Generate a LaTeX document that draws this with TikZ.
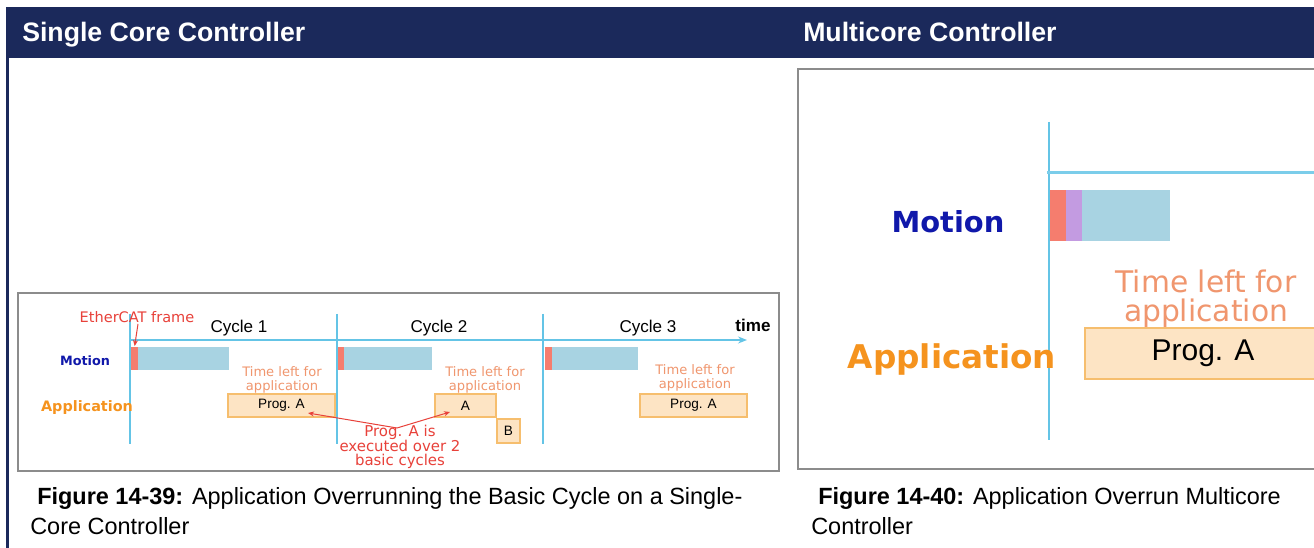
\documentclass[tikz,border=0pt]{standalone}
\usepackage{fontspec}
\setmainfont{Liberation Sans}
\newfontfamily\dv{DejaVu Sans}
\usetikzlibrary{arrows.meta}
\definecolor{navy}{RGB}{27,41,91}
\definecolor{lblue}{RGB}{100,196,230}
\definecolor{barblue}{RGB}{168,211,226}
\definecolor{ecred}{RGB}{245,125,110}
\definecolor{lav}{RGB}{195,155,225}
\definecolor{progfill}{RGB}{253,228,196}
\definecolor{progline}{RGB}{246,190,110}
\definecolor{salmon}{RGB}{240,150,110}
\definecolor{notered}{RGB}{232,65,58}
\definecolor{motblue}{RGB}{16,24,170}
\definecolor{apporange}{RGB}{245,147,30}
\definecolor{framegray}{RGB}{140,140,140}
\def\u{0.75pt}
\tikzset{
  frame/.style={draw=framegray, line width=1.5*\u},
  vline/.style={draw=lblue, line width=1.6*\u},
  bar/.style={fill=barblue, draw=none},
  redbar/.style={fill=ecred, draw=none},
  prog/.style={draw=progline, fill=progfill, line width=1.2*\u, inner sep=0pt},
  leftlbl/.style={font=\fontsize{10.2}{12}\selectfont, text=black},
  tleft/.style={text=salmon, align=center, inner sep=0pt, font=\dv\fontsize{9.8}{10.5}\selectfont},
  cyc/.style={font=\fontsize{12.8}{14}\selectfont, inner sep=0pt},
  redarrow/.style={draw=notered, line width=1*\u, -{Stealth[length=6*\u,width=5*\u]}},
  hdr/.style={text=white, font=\bfseries\fontsize{20}{24}\selectfont, anchor=base west, inner sep=0pt},
  captxt/.style={font=\fontsize{17.6}{22}\selectfont, anchor=base west, inner sep=0pt}
}
\begin{document}
\begin{tikzpicture}[x=0.75pt,y=-0.75pt]
\useasboundingbox (0,0) rectangle (1314,548);
\fill[white] (0,0) rectangle (1314,548);
% header band and left rule
\fill[navy] (6,7) rectangle (1314,58);
\fill[navy] (6,58) rectangle (8.5,548);
\node[hdr] (h1) at (22,42) {Single Core Controller};
\node[hdr] (h2) at (803,42) {Multicore Controller};

% ===== left figure =====
\draw[frame] (18,293) rectangle (779,471);
% cycle lines
\draw[vline] (130,314) -- (130,444);
\draw[vline] (337,314) -- (337,444);
\draw[vline] (543,314) -- (543,444);
% time axis
\coordinate (t0) at (130,340);
\coordinate (t1) at (747,340);
\draw[draw=lblue, line width=1.4*\u, -{Stealth[length=9*\u,width=7*\u,inset=3*\u]}] (t0) -- (t1);
\node[font=\bfseries\fontsize{12.8}{14}\selectfont, inner sep=0pt] (time) at (753,325) {time};
\node[cyc] (c1) at (239,328) {Cycle 1};
\node[cyc] (c2) at (439,328) {Cycle 2};
\node[cyc] (c3) at (648,328) {Cycle 3};
% motion bars
\fill[redbar] (131,347) rectangle (138,370);
\fill[bar] (138,347) rectangle (229,370);
\node[inner sep=0pt] (r1) at (134.5,347) {};
\fill[redbar] (338,347) rectangle (344,370);
\fill[bar] (344,347) rectangle (432,370);
\fill[redbar] (545,347) rectangle (552,370);
\fill[bar] (552,347) rectangle (638,370);
% row labels
\node[text=motblue, font=\dv\bfseries\fontsize{9.6}{11}\selectfont, inner sep=0pt] (mot1) at (85,361) {Motion};
\node[text=apporange, font=\dv\bfseries\fontsize{10.8}{12}\selectfont, inner sep=0pt] (app1) at (87,408) {Application};
% EtherCAT
\node[text=notered, font=\dv\fontsize{10.9}{12}\selectfont, inner sep=0pt] (eth) at (137,317) {EtherCAT frame};
\draw[redarrow] (138,324) -- (r1);
% time left labels
\node[tleft] (tl1) at (282,380) {Time left for\\application};
\node[tleft] (tl2) at (485,380) {Time left for\\application};
\node[tleft] (tl3) at (695,378) {Time left for\\application};
% program boxes
\node[prog, minimum width=107*\u, minimum height=23*\u, leftlbl] (pa1) at (281.5,405.5) {Prog. A};
\node[prog, minimum width=61*\u, minimum height=23*\u, leftlbl] (pa2) at (465.5,405.5) {A};
\node[prog, minimum width=23*\u, minimum height=24*\u, leftlbl] (pb2) at (508.5,431) {B};
\node[prog, minimum width=107*\u, minimum height=23*\u, leftlbl] (pa3) at (693.5,405.5) {Prog. A};
% note
\node[text=notered, align=center, inner sep=0pt, font=\dv\fontsize{11.2}{11}\selectfont] (note) at (400,447) {Prog. A is\\executed over 2\\basic cycles};
\coordinate (j) at (397,428);
\draw[redarrow] (j) -- (308,413) coordinate (pa1t);
\draw[redarrow] (j) -- (450,412) coordinate (pa2t);

% ===== right figure =====
\draw[frame] (1316,69) -- (798,69) -- (798,469) -- (1316,469);
\draw[vline, line width=2*\u] (1049,122) -- (1049,440);
\draw[draw=lblue!85, line width=3*\u] (1047,173) -- (1316,173);
\fill[redbar] (1050,190) rectangle (1066,241);
\fill[lav] (1066,190) rectangle (1082,241);
\fill[bar] (1082,190) rectangle (1170,241);
\node[text=motblue, font=\dv\bfseries\fontsize{21.7}{24}\selectfont, inner sep=0pt] (mot2) at (948,222) {Motion};
\node[text=apporange, font=\dv\bfseries\fontsize{24.5}{28}\selectfont, inner sep=0pt] (app2) at (952,359) {Application};
\node[text=salmon, align=center, inner sep=0pt, font=\dv\fontsize{22.3}{21.5}\selectfont] (tl4) at (1206,299) {Time left for\\application};
\fill[progfill] (1085,328) rectangle (1316,379);
\draw[draw=progline, line width=1.2*\u] (1316,328) -- (1085,328) -- (1085,379) -- (1316,379);
\node[inner sep=0pt, font=\fontsize{22.5}{26}\selectfont] (pa4) at (1203,353) {Prog. A};

% captions
\node[captxt] (cap1) at (37,505) {\textbf{Figure 14-39:} Application Overrunning the Basic Cycle on a Single-};
\node[captxt] (cap1b) at (30,535) {Core Controller};
\node[captxt] (cap2) at (818,505) {\textbf{Figure 14-40:} Application Overrun Multicore};
\node[captxt] (cap2b) at (811,535) {Controller};
\end{tikzpicture}
\end{document}
